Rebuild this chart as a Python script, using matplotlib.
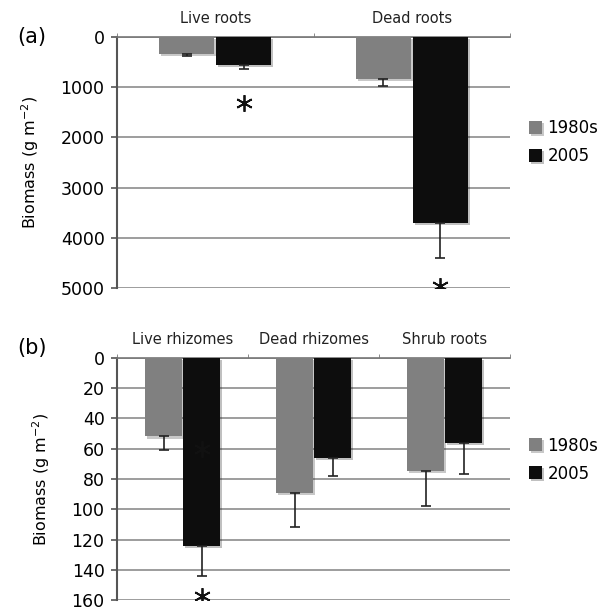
import numpy as np
import matplotlib.pyplot as plt
import matplotlib.patheffects as pe

# panel (a) data
cats_a = ['Live roots', 'Dead roots']
a_1980 = [350, 840]
a_1980_err = [40, 140]
a_2005 = [560, 3700]
a_2005_err = [90, 700]
a_star_y = [1320, 4950]

# panel (b) data
cats_b = ['Live rhizomes', 'Dead rhizomes', 'Shrub roots']
b_1980 = [52, 89, 75]
b_1980_err = [9, 23, 23]
b_2005 = [124, 66, 56]
b_2005_err = [20, 12, 21]
b_star = [(0, 60), (0, 157)]

gray = '#808080'
black = '#0d0d0d'
bw = 0.28
shadow = [pe.SimplePatchShadow(offset=(1.5, -1.5), alpha=0.25), pe.Normal()]

fig = plt.figure(figsize=(6.13, 6.13), dpi=100)
ax_a = fig.add_axes([0.191, 0.530, 0.641, 0.410])
ax_b = fig.add_axes([0.191, 0.021, 0.641, 0.3955])


def draw(ax, cats, v1, e1, v2, e2, ymax, step):
    x = np.arange(len(cats))
    n = len(cats)
    ax.bar(x - 0.145, v1, bw, color=gray, zorder=3, path_effects=shadow,
           label='1980s')
    ax.bar(x + 0.145, v2, bw, color=black, zorder=3, path_effects=shadow,
           label='2005')
    ax.errorbar(x - 0.145, v1, yerr=[np.zeros(n), e1], fmt='none',
                ecolor='#222222', elinewidth=1.2, capsize=3.5, capthick=1.2, zorder=4)
    ax.errorbar(x + 0.145, v2, yerr=[np.zeros(n), e2], fmt='none',
                ecolor='#222222', elinewidth=1.2, capsize=3.5, capthick=1.2, zorder=4)
    ax.set_xlim(-0.5, n - 0.5)
    ax.set_ylim(ymax, 0)
    ax.set_yticks(np.arange(0, ymax + 1, step))
    ax.yaxis.grid(True, color='#8c8c8c', linewidth=1.2, zorder=0)
    ax.set_axisbelow(True)
    ax.xaxis.tick_top()
    ax.set_xticks(x)
    ax.set_xticklabels(cats, fontsize=10.5, color='#222222')
    ax.tick_params(axis='x', which='major', length=0, pad=8)
    ax.set_xticks(np.arange(n + 1) - 0.5, minor=True)
    ax.tick_params(axis='x', which='minor', top=True, bottom=False,
                   length=3, color='#777777')
    ax.tick_params(axis='y', labelsize=12.5, length=4, width=1.2, pad=5,
                   color='#555555')
    for s in ['right', 'bottom']:
        ax.spines[s].set_visible(False)
    ax.spines['top'].set_color('#777777')
    ax.spines['top'].set_linewidth(1.2)
    ax.spines['left'].set_color('#555555')
    ax.spines['left'].set_linewidth(1.5)
    ax.set_ylabel('Biomass (g m$^{-2}$)', fontsize=11.5, labelpad=14)
    ax.legend(loc='center left', bbox_to_anchor=(1.01, 0.58), frameon=False,
              fontsize=12, handlelength=0.8, handleheight=0.8,
              handletextpad=0.3, labelspacing=0.6)


draw(ax_a, cats_a, a_1980, a_1980_err, a_2005, a_2005_err, 5000, 1000)
draw(ax_b, cats_b, b_1980, b_1980_err, b_2005, b_2005_err, 160, 20)

ax_a.plot(np.arange(len(cats_a)) + 0.145, a_star_y, linestyle='none',
          marker=(6, 2, 0), markersize=12, mew=1.3, color='#111111', zorder=5)
ax_b.plot([p[0] + 0.145 for p in b_star], [p[1] for p in b_star],
          linestyle='none', marker=(6, 2, 0), markersize=12, mew=1.3,
          color='#111111', zorder=5)

fig.text(0.028, 0.94, '(a)', fontsize=15, va='center')
fig.text(0.028, 0.432, '(b)', fontsize=15, va='center')

fig.savefig('out.png', dpi=100)
